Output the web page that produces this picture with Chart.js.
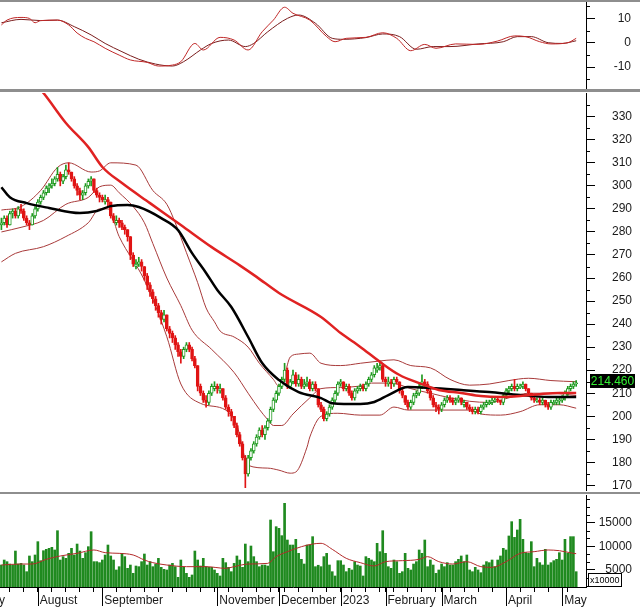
<!DOCTYPE html>
<html>
<head>
<meta charset="utf-8">
<title>Price chart</title>
<script src="https://cdn.jsdelivr.net/npm/chart.js@4.4.1/dist/chart.umd.min.js"></script>
<style>
  html, body { margin: 0; padding: 0; background: #fff; }
  body { position: relative; width: 640px; height: 608px; overflow: hidden; }
  canvas { position: absolute; left: 0; }
  .sep { position: absolute; left: 0; width: 640px; background: #8e8e8e; }
</style>
</head>
<body>
<canvas id="macdChart" width="640" height="87" style="top:2px"></canvas>
<canvas id="priceChart" width="640" height="399" style="top:92px"></canvas>
<canvas id="volumeChart" width="640" height="114" style="top:494px"></canvas>
<div class="sep" style="top:0;height:2px"></div>
<div class="sep" style="top:89px;height:3px"></div>
<div class="sep" style="top:492px;height:2px"></div>
<script>
/**
 * Stock chart: MACD pane, candles with moving averages and bands, volume pane
 */

const colors = {
    up: '#1f9a1f',
    down: '#e01414',
    volume: '#1f8a1f',
    volumeMa: '#b22a2a',
    ma200: '#e02222',
    ma50: '#000000',
    band: '#a83a3a',
    macd: '#c02828',
    signal: '#7a1c1c',
    axis: '#000000',
    text: '#1a1a1a'
};

// Daily candles, one per trading day (index 0 = first visible session)
const opens = [
    283,284,286,283,288,289,287,290,289,286, 284,283,287,290,293,295,297,299,300,301,
    303,305,302,304,307,306,303,300,298,296, 297,300,302,303,298,296,295,293,294,293,
    287,284,285,284,282,281,278,270,265,266, 267,265,261,257,254,251,248,245,242,244,
    238,236,234,231,228,226,229,231,229,225, 222,213,210,207,206,210,212,213,211,212,
    208,204,202,200,196,192,188,182,175,182, 185,188,191,194,192,195,198,203,207,210,
    213,216,220,213,215,218,214,216,213,214, 215,212,214,212,205,203,199,201,204,207,
    210,214,215,212,213,210,208,211,212,213, 212,214,216,218,220,221,222,216,214,215,
    214,216,215,211,209,206,204,206,209,210, 213,215,214,211,208,205,204,203,205,207,
    208,207,206,207,208,205,206,204,203,202, 203,202,204,205,205.5,206,206.5,207.5,207,206,
    209,211,212,213,212,212.5,213,214,212,210, 208,206.5,207,206,207,205,204,205.5,206,206.5,
    207,208,210,212,213,214
];
const highs = [
    286,287,287,289,290,290,291,292,290,287, 285,288,291,294,296,298,300,301,303,304,
    308,306,305,309,310,306,304,301,299,298, 301,303,304,303,299,297,296,296,295,293,
    288,287,286,285,283,281,278,271,268,269, 268,265,262,258,255,252,249,246,246,244,
    239,237,235,232,229,230,232,232,230,226, 222,214,211,209,211,214,215,214,214,212,
    209,205,203,200,197,193,189,183,183,186, 189,192,195,196,196,199,204,208,211,214,
    217,223,221,216,220,219,218,217,216,217, 216,215,215,212,206,204,202,205,208,211,
    215,216,215,214,214,211,212,213,214,214, 215,217,219,222,223,224,223,217,217,216,
    217,217,215,212,209,207,207,210,211,214, 218,216,215,212,209,206,205,206,208,209,
    209,208,208,209,208,207,206,205,204,204, 204,205,206,207,207,208,208,208,207,210,
    212,213,214,216,214,214,215,214,212,210, 209,208,208,208,207,206,207,207,208,208,
    209,211,213,214,215,215.5
];
const lows = [
    281,283,282,283,286,286,286,288,285,283, 281,283,286,289,292,294,296,297,299,300,
    302,300,301,303,305,302,299,296,294,294, 296,299,300,297,295,293,293,292,291,286,
    284,283,282,281,279,276,268,265,264,265, 263,259,255,252,249,246,243,240,241,237,
    234,232,229,226,223,225,228,228,224,221, 211,209,206,204,205,209,211,210,210,207,
    203,200,198,195,191,187,181,169,174,181, 184,187,190,191,190,194,197,202,206,209,
    212,215,212,212,214,213,213,212,212,213, 211,211,211,204,202,198,198,200,203,206,
    209,213,211,211,209,207,207,210,211,211, 211,213,215,217,219,220,215,213,213,212,
    213,214,210,208,205,203,203,205,208,209, 212,213,210,207,204,202,201,202,204,206,
    206,205,205,206,205,204,203,202,201,201, 201,201,203,204,205,205,206,206,205,205,
    208,210,211,211,211,212,212,211,209,207, 206,206,205,205,204,203,203,205,205,205,
    206,207,209,211,212,213
];
const closes = [
    284,286,283,288,289,287,290,289,286,284, 283,287,290,293,295,297,299,300,301,303,
    305,302,304,307,306,303,300,298,296,297, 300,302,303,298,296,295,294,294,293,287,
    285,285,284,282,281,278,270,266,266,267, 265,261,257,254,251,248,245,242,244,238,
    236,234,231,228,226,229,231,229,225,222, 213,210,207,206,210,213,213,212,212,208,
    204,202,200,196,192,188,182,175,182,185, 188,191,194,192,195,198,203,207,210,213,
    216,220,213,215,218,214,216,213,214,215, 212,214,212,205,203,199,201,204,207,210,
    214,215,212,213,210,208,211,212,213,212, 214,216,218,221,221,222,216,215,215,214,
    216,215,211,209,206,204,206,209,210,213, 215,214,211,208,205,204,203,205,207,208,
    207,206,207,208,206,206,204,203,202,203, 202,204,205,206,206,207,207,207,206,209,
    211,212,213,212,213,213,214,212,210,208, 207,207,206,207,205,204,206,206,207,207,
    208,210,212,213,214,214.46
];

// Volume per session (axis unit x10000)
const volumes = [
    6050,7110,6760,6260,6050,9010,6260,6400,6050,4640, 7960,6760,8170,10990,6970,9080,9370,9580,9790,9230,
    13310,7110,7820,7460,8520,9580,8170,10490,9010,7460, 8660,9930,13100,6760,6760,6550,7110,8170,10280,7960,
    7110,5000,5700,8520,7820,5350,6050,4290,5840,5700, 6760,8380,6050,6760,5700,6260,7460,5560,5140,5000,
    6050,6400,5700,3440,7110,5560,4290,3440,3940,9010, 7110,5840,7460,5700,5560,5560,5000,4290,3730,7460,
    6550,5560,4640,6400,7960,7110,5560,10490,6760,10070, 7820,6760,5700,6050,6050,5840,15570,8870,14160,13810,
    12260,19100,11340,10280,10280,11480,8520,7250,6260,10280, 10280,12050,5700,6000,5700,7820,8520,6050,4640,3730,
    6970,6970,6050,4640,5350,5000,6760,6050,5840,3730, 7820,7460,7110,6760,10640,8870,13310,8520,5700,5350,
    7110,6760,4290,4640,8520,5350,5000,6260,6760,9230, 8520,11340,5700,7110,6050,4290,5000,6260,5700,6550,
    6050,6050,6760,7250,7960,6760,8170,5000,4640,5560, 5000,4430,6050,6760,6550,7110,5700,7110,7960,9580,
    9230,12190,15220,11900,13460,15710,11480,8660,8520,10990, 5700,7460,6550,6050,9370,6050,6550,6970,7250,8660,
    7110,11480,8520,12050,12050,4640
];

// Indicator lines as [session index, value]
const ma200Line = [
    [13,343],[15,340.3],[23,327.3],[31,316.8],[36,308.2],[43,301.2],[53,292.5],[64,283],[75,273.4],
    [85,265.5],[91,260.5],[99,253.5],[114,243.1],[121,236.1],[128,230.1],[135,223.6],[142,217.9],
    [149,214.4],[156,211.4],[164,210.1],[171,208.8],[178,208.4],[185,208.8],[192,209.6],[199,210.1],[205,210.1]
];
const ma50Line = [
    [0,299.4],[3,295.1],[9,292.5],[17,290.4],[28,288.2],[34,289.1],[39,291.2],[45,291.7],[49,290.8],
    [57,286],[63,280.8],[68,270.8],[73,262.2],[77,254.8],[82,247.4],[88,234.4],[93,223.1],[99,215.7],
    [106,210.5],[114,207.9],[118,205.7],[128,205.3],[133,206.2],[138,209.2],[145,212.7],[153,212.3],
    [164,211.4],[174,210.5],[185,209.2],[195,208.4],[205,208.4]
];
const upperBand = [
    [0,289.5],[7,291],[14,298],[20,308],[24,310],[32,306],[35,306.5],[39,310],[48,309],[54,298],
    [59,292],[62,284],[66,271],[70,258],[73,247],[76,241],[78,237],[83,234.4],[88,230],[92,223],
    [97,216],[99,213],[101,218],[103,225.7],[106,227],[110,227.4],[114,223],[121,222],[128,223],
    [135,224],[140,224.5],[146,222],[153,221],[160,216],[167,213.5],[174,214],[181,215.5],
    [188,216.5],[196,215.5],[205,215]
];
const middleBand = [
    [0,280],[7,282],[15,285],[23,292],[31,295],[35,299.6],[39,300.3],[42,297],[47,291],[51,284],
    [54,275],[59,260],[64,248],[68,237.4],[75,229],[83,219],[88,210],[92,203],[95,198.5],[97,196],
    [100,196],[104,201],[110,208],[114,212],[121,212.5],[127,213],[132,214.4],[137,214.4],[141,214],
    [146,212],[153,210],[160,208],[167,206.5],[174,206],[181,208],[188,210],[196,210],[205,209]
];
const lowerBand = [
    [0,267],[5,270.7],[15,273.6],[23,278],[31,284],[35,290],[38,290],[42,278],[51,259],[59,234.5],
    [64,214],[71,205.6],[80,202.7],[84,196],[88,178.7],[95,177.5],[99,176.6],[103,175.3],[105,175.8],
    [109,186.6],[110,191],[114,200],[120,201.3],[128,200.5],[135,200.5],[140,204],[145,202.7],
    [167,202.7],[171,201],[178,200.5],[185,202],[192,205],[199,205],[205,203.5]
];
const macdLine = [
    [0,7.3],[2,9.3],[7,10.4],[10,10],[12,8.2],[14,9.1],[20,9.3],[24,7.3],[27,4],[30,1.8],[33,0.4],
    [37,-2.3],[42,-5.1],[46,-7.1],[52,-8.1],[56,-9.6],[61,-9.2],[64,-7.8],[69,-0.3],[72,-3],[78,2.2],
    [83,1.1],[88,-3],[93,4.5],[97,9.3],[101,14.6],[104,12.1],[110,9.3],[116,2.5],[119,0.4],[123,1.8],
    [130,2.2],[136,4.1],[141,1.8],[146,-3.3],[151,-0.7],[155,-2.3],[162,-0.5],[170,-0.7],[177,0.7],
    [183,2.8],[187,2.5],[192,0.4],[196,-0.5],[202,0],[205,1.8]
];
const signalLine = [
    [0,8.2],[7,9.6],[14,9.1],[20,9.3],[26,6.6],[32,3.2],[37,-0.3],[43,-3.7],[49,-6.8],[55,-8.8],
    [61,-9.6],[65,-7.8],[71,-3],[75,-0.3],[81,1.1],[87,-1.6],[90,-0.3],[95,4.5],[102,10],[106,11.4],
    [112,8],[118,1.8],[122,1.4],[130,2.1],[136,3.6],[142,2.5],[148,-2.7],[154,-1.6],[160,-1.6],
    [170,-0.5],[179,0.4],[184,2.5],[189,2.5],[195,0],[200,-0.3],[205,0.8]
];
const volumeMaLine = [
    [0,6050],[7,6260],[11,6260],[16,7250],[21,7960],[27,8520],[33,9230],[37,8660],[42,8520],[47,8170],
    [51,7110],[54,6550],[59,6050],[66,5700],[73,5700],[80,5350],[83,5700],[88,6260],[95,6400],
    [98,7820],[102,8870],[107,9930],[111,10490],[114,10640],[118,9370],[123,7460],[128,6550],
    [133,5840],[137,6760],[143,6970],[149,7250],[152,7820],[156,6760],[161,6260],[166,6760],
    [171,5700],[175,5560],[180,6760],[185,8520],[190,8870],[195,9230],[199,9080],[204,8520],[205,8450]
];

// Axis ticks and labels
const monthNames = ['July', 'August', 'September', 'November', 'December', '2023', 'February', 'March', 'April', 'May'];
const monthStarts = [-7, 13, 36, 77, 99, 121, 137, 157, 180, 200];
const weekStarts = [3, 8, 18, 23, 28, 33, 41, 46, 51, 56, 61, 66, 71, 76, 81, 86, 91, 96, 101, 106, 111, 116,
    125, 130, 135, 140, 145, 150, 155, 160, 165, 170, 175, 185, 190, 195, 202];
const priceTicks = [170, 180, 190, 200, 210, 220, 230, 240, 250, 260, 270, 280, 290, 300, 310, 320, 330];
const priceMinorTicks = [175, 185, 195, 205, 215, 225, 235, 245, 255, 265, 275, 285, 295, 305, 315, 325, 335];
const macdTicks = [-10, 0, 10];
const macdMinorTicks = [-15, -5, 5, 15];
const volumeTicks = [5000, 10000, 15000];
const volumeMinorTicks = [1667, 3333, 6667, 8333, 11667, 13333, 16667, 18333, 20000];

const xMin = -0.5;
const xMax = 208.5;
const plotRight = 586;

Chart.defaults.font.family = '"Liberation Sans", Arial, sans-serif';
Chart.defaults.font.size = 12;
Chart.defaults.color = colors.text;

const toPoints = pairs => pairs.map(([x, y]) => ({ x, y }));

/**
 * Minor ticks, long month ticks and value boxes next to the axes
 */
const axisMarks = {
    id: 'axisMarks',
    afterDraw(chart, args, opts) {
        const ctx = chart.ctx;
        const yScale = chart.scales.y;
        ctx.save();
        ctx.strokeStyle = colors.axis;
        ctx.lineWidth = 1;
        (opts.minor || []).forEach(v => {
            const py = Math.round(yScale.getPixelForValue(v)) + 0.5;
            ctx.beginPath();
            ctx.moveTo(yScale.left, py);
            ctx.lineTo(yScale.left + 4, py);
            ctx.stroke();
        });
        if (opts.longTicks) {
            const xScale = chart.scales.x;
            opts.longTicks.forEach(v => {
                const px = Math.round(xScale.getPixelForValue(v)) + 0.5;
                ctx.beginPath();
                ctx.moveTo(px, xScale.top);
                ctx.lineTo(px, xScale.top + 19);
                ctx.stroke();
            });
        }
        if (opts.lastValue !== undefined) {
            const py = Math.round(yScale.getPixelForValue(opts.lastValue)) - 2;
            ctx.fillStyle = '#000';
            ctx.fillRect(590, py - 7, 45, 14);
            ctx.fillStyle = '#33ee33';
            ctx.font = '12px "Liberation Sans", Arial, sans-serif';
            ctx.textAlign = 'center';
            ctx.textBaseline = 'middle';
            ctx.fillText(opts.lastValue.toFixed(3), 612.5, py + 1);
        }
        if (opts.unitText) {
            const top = chart.chartArea.bottom - 14;
            ctx.fillStyle = '#fff';
            ctx.fillRect(588, top, 34, 14);
            ctx.strokeRect(588.5, top + 0.5, 33, 13);
            ctx.fillStyle = '#000';
            ctx.font = '9px "Liberation Sans", Arial, sans-serif';
            ctx.textAlign = 'left';
            ctx.textBaseline = 'middle';
            ctx.fillText(opts.unitText, 590, top + 7.5);
        }
        ctx.restore();
    }
};

// Right axis; labelRight is the x where right-aligned labels end
function rightAxis(min, max, tickValues, padding, crossAlign, labelRight) {
    return {
        position: 'right',
        min: min,
        max: max,
        afterBuildTicks: s => { s.ticks = tickValues.map(v => ({ value: v })); },
        afterFit: s => { s.width = labelRight - plotRight; s.paddingTop = 0; s.paddingBottom = 0; },
        grid: { drawOnChartArea: false, tickLength: 9, color: colors.axis },
        border: { color: colors.axis },
        ticks: { padding: padding, crossAlign: crossAlign, color: colors.text, callback: v => String(v) }
    };
}

const hiddenX = { type: 'linear', min: xMin, max: xMax, display: false, offset: false, grid: { offset: false } };

function lineSet(pairs, color, width, order) {
    return {
        type: 'line',
        data: toPoints(pairs),
        borderColor: color,
        borderWidth: width,
        pointRadius: 0,
        fill: false,
        cubicInterpolationMode: 'monotone',
        order: order
    };
}

const baseOptions = {
    responsive: false,
    animation: false,
    events: [],
    plugins: { legend: { display: false }, tooltip: { enabled: false } }
};

/**
 * Top pane: MACD and signal
 */
function initMacdChart() {
    const ctx = document.getElementById('macdChart');
    const labelRight = 631;
    new Chart(ctx, {
        type: 'line',
        data: {
            datasets: [
                lineSet(signalLine, colors.signal, 1, 1),
                lineSet(macdLine, colors.macd, 1, 0)
            ]
        },
        options: {
            ...baseOptions,
            layout: { padding: { right: 640 - labelRight } },
            plugins: { ...baseOptions.plugins, axisMarks: { minor: macdMinorTicks } },
            scales: {
                x: hiddenX,
                y: rightAxis(-19.05, 16.75, macdTicks, 4, 'far', labelRight)
            }
        },
        plugins: [axisMarks]
    });
}

/**
 * Middle pane: candles, bands and moving averages
 */
function initPriceChart() {
    const ctx = document.getElementById('priceChart');
    const isUp = closes.map((c, i) => c >= opens[i]);
    const candleColors = isUp.map(up => up ? colors.up : colors.down);

    new Chart(ctx, {
        type: 'bar',
        data: {
            datasets: [
                lineSet(upperBand, colors.band, 1, 5),
                lineSet(middleBand, colors.band, 1, 5),
                lineSet(lowerBand, colors.band, 1, 5),
                {
                    data: lows.map((l, i) => ({ x: i, y: [l, highs[i]] })),
                    backgroundColor: candleColors,
                    barThickness: 1,
                    grouped: false,
                    order: 3
                },
                {
                    // rising candles hollow, falling candles filled
                    data: opens.map((o, i) => ({ x: i, y: [o, closes[i]] })),
                    backgroundColor: isUp.map(up => up ? '#ffffff' : colors.down),
                    borderColor: candleColors,
                    borderWidth: 1,
                    borderSkipped: false,
                    barThickness: 3,
                    minBarLength: 1,
                    grouped: false,
                    order: 2
                },
                lineSet(ma50Line, colors.ma50, 2.5, 1),
                lineSet(ma200Line, colors.ma200, 2.5, 0)
            ]
        },
        options: {
            ...baseOptions,
            layout: { padding: { top: 1, bottom: 1 } },
            plugins: {
                ...baseOptions.plugins,
                axisMarks: { minor: priceMinorTicks, lastValue: closes[closes.length - 1] }
            },
            scales: {
                x: hiddenX,
                y: rightAxis(168, 340.3, priceTicks, 17, 'near', 640)
            }
        },
        plugins: [axisMarks]
    });
}

/**
 * Bottom pane: volume bars with average and month axis
 */
function initVolumeChart() {
    const ctx = document.getElementById('volumeChart');
    const axisTicks = [...new Set([...monthStarts, ...weekStarts])].sort((a, b) => a - b);
    const labelRight = 632;

    new Chart(ctx, {
        type: 'bar',
        data: {
            datasets: [
                {
                    data: volumes.map((v, i) => ({ x: i, y: v })),
                    backgroundColor: colors.volume,
                    barThickness: 2,
                    grouped: false,
                    order: 1
                },
                lineSet(volumeMaLine, colors.volumeMa, 1, 0)
            ]
        },
        options: {
            ...baseOptions,
            layout: { padding: { top: 1, right: 640 - labelRight } },
            plugins: {
                ...baseOptions.plugins,
                axisMarks: { minor: volumeMinorTicks, longTicks: monthStarts.slice(1), unitText: 'x10000' }
            },
            scales: {
                x: {
                    type: 'linear',
                    min: xMin,
                    max: xMax,
                    offset: false,
                    afterBuildTicks: s => { s.ticks = axisTicks.map(v => ({ value: v })); },
                    afterFit: s => { s.height = 21; s.paddingLeft = 0; s.paddingRight = 0; },
                    grid: { drawOnChartArea: false, offset: false, tickLength: 5, color: colors.axis },
                    border: { color: colors.axis },
                    ticks: {
                        autoSkip: false,
                        maxRotation: 0,
                        align: 'start',
                        labelOffset: 2,
                        padding: 1,
                        color: colors.text,
                        callback: v => {
                            const k = monthStarts.indexOf(v);
                            return k >= 0 ? monthNames[k] : '';
                        }
                    }
                },
                y: rightAxis(1400, 20860, volumeTicks, 4, 'far', labelRight)
            }
        },
        plugins: [axisMarks]
    });
}

document.addEventListener('DOMContentLoaded', function() {
    initMacdChart();
    initPriceChart();
    initVolumeChart();
});
</script>
</body>
</html>
